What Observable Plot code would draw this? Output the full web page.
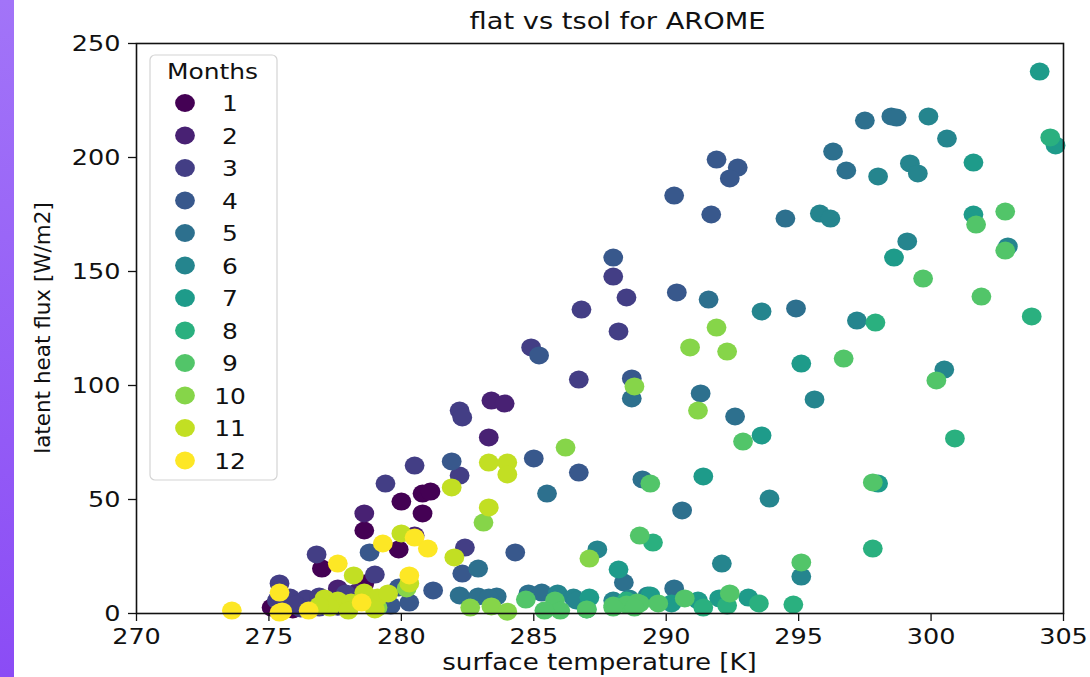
<!DOCTYPE html>
<html>
<head>
<meta charset="utf-8">
<script src="https://cdn.jsdelivr.net/npm/d3@7"></script>
<script src="https://cdn.jsdelivr.net/npm/@observablehq/plot@0.6"></script>
<style>
  html, body { margin: 0; padding: 0; background: #ffffff; }
  body { width: 1090px; height: 677px; position: relative; overflow: hidden; font-family: "DejaVu Sans", sans-serif; }
  #band { position: absolute; left: 0; top: 0; width: 14px; height: 677px; background: linear-gradient(#a274f8, #8b4cf5); }
  #chart { position: absolute; left: 0; top: 0; }
</style>
</head>
<body>
<div id="band"></div>
<div id="chart"></div>
<script>
// ---- data: [surface temperature (K), latent heat flux (W/m2)] per month ----
const month1 = [[280.0,49.1],[280.8,52.6],[281.1,53.5],[280.8,43.9],[278.6,36.4],[279.9,28.1],[277.0,19.7],[278.6,13.2],[275.1,2.6],[275.9,1.8],[277.7,5.7],[276.5,3.0]];
const month2 = [[283.4,93.4],[283.9,92.1],[283.3,77.2],[278.6,43.9],[277.6,11.0],[275.5,7.5],[278.3,9.2],[280.5,34.2]];
const month3 = [[282.2,89.0],[282.3,86.0],[280.5,64.9],[279.4,57.0],[282.2,60.5],[276.8,25.9],[279.0,17.1],[275.4,13.2],[275.8,7.0],[276.4,6.6],[276.9,7.5],[277.3,5.7],[276.2,2.2],[276.9,2.6],[275.3,5.7],[277.9,8.8],[284.9,116.7],[288.0,147.8],[288.5,138.6],[286.8,133.3],[288.2,123.7],[286.7,102.6],[282.4,28.9],[276.0,4.0],[277.6,3.0]];
const month4 = [[288.0,156.1],[290.4,140.8],[285.2,113.2],[288.7,103.1],[285.0,68.0],[286.7,61.8],[281.9,66.7],[284.3,26.8],[282.3,17.5],[281.2,10.1],[280.3,4.8],[291.9,199.1],[292.7,195.6],[292.4,190.8],[290.3,183.3],[291.7,175.0],[279.9,11.4],[279.6,3.5],[278.8,26.8]];
const month5 = [[297.5,216.2],[298.5,218.0],[298.7,217.5],[296.3,202.6],[296.8,194.3],[294.5,173.2],[294.9,133.8],[291.6,137.7],[288.7,94.3],[291.3,96.5],[292.6,86.4],[285.5,52.6],[289.1,58.8],[290.6,45.2],[282.9,19.7],[288.4,13.6],[290.3,11.0],[282.2,7.9],[282.9,7.5],[283.6,7.5],[283.3,7.0],[284.8,8.8],[285.3,9.2]];
const month6 = [[299.9,218.0],[300.6,208.3],[298.0,191.7],[299.2,197.4],[299.5,193.0],[295.8,175.4],[296.2,173.2],[302.9,161.0],[299.1,163.2],[297.2,128.5],[293.6,132.5],[295.6,93.9],[300.5,107.0],[295.1,16.2],[293.9,50.4],[287.4,28.1],[292.1,21.9],[285.9,8.8],[286.5,7.0],[286.6,5.7],[288.0,5.7],[288.6,6.6],[289.3,7.9]];
const month7 = [[301.6,197.8],[304.1,237.7],[304.7,205.3],[301.6,175.0],[298.6,156.1],[295.1,109.6],[293.6,78.1],[291.4,60.1],[298.0,57.0],[288.2,19.3],[287.1,7.0],[289.4,7.9],[290.2,4.4],[291.2,5.7],[292.0,6.6],[293.1,7.0]];
const month8 = [[304.5,208.8],[303.8,130.3],[297.9,127.6],[300.9,76.8],[297.8,28.5],[294.8,3.9],[289.5,31.1],[288.5,5.7],[291.4,2.6],[292.3,3.5],[293.5,4.4],[287.0,1.8]];
const month9 = [[301.7,170.6],[302.8,176.3],[302.8,159.2],[299.7,146.9],[301.9,139.0],[296.7,111.8],[300.2,102.2],[292.9,75.4],[289.4,57.0],[297.8,57.5],[295.1,22.4],[289.0,34.2],[284.7,6.1],[285.8,5.7],[288.9,4.8],[288.0,3.5],[288.5,3.9],[289.0,4.4],[289.7,4.4],[290.7,6.6],[292.4,8.8],[286.0,1.3],[287.0,1.8],[288.0,2.6],[288.8,2.6],[285.4,1.3]];
const month10 = [[291.9,125.4],[290.9,116.7],[292.3,114.9],[288.8,99.6],[291.2,89.0],[286.2,72.8],[283.1,39.9],[287.1,24.1],[282.6,2.6],[283.4,3.1],[280.2,11.0],[279.1,2.6],[284.0,0.8]];
const month11 = [[283.3,66.2],[284.0,66.2],[284.0,61.0],[281.9,55.3],[283.3,46.5],[280.0,35.1],[282.0,24.6],[278.2,16.7],[280.3,13.2],[277.1,6.6],[277.6,5.7],[278.1,4.8],[277.3,2.6],[278.0,1.3],[278.6,9.2],[279.1,7.0],[279.5,8.8],[276.9,3.5],[279.0,1.8]];
const month12 = [[273.6,1.3],[275.4,9.2],[275.4,0.4],[276.5,1.3],[277.6,21.9],[279.3,30.7],[280.5,33.3],[281.0,28.5],[280.3,16.7],[278.5,4.8],[275.5,0.9]];

const monthSeries = [month1, month2, month3, month4, month5, month6, month7, month8, month9, month10, month11, month12];
const monthNames = [1,2,3,4,5,6,7,8,9,10,11,12];
const xTicks = [270, 275, 280, 285, 290, 295, 300, 305];
const yTicks = [0, 50, 100, 150, 200, 250];
const titleText = "flat vs tsol for AROME";
const xLabel = "surface temperature [K]";
const yLabel = "latent heat flux [W/m2]";
const legendTitle = "Months";

// table built from the arrays above (drawn in month order)
const rows = monthSeries.flatMap((pts, i) => pts.map(([t, f]) => ({month: monthNames[i], tsol: t, flat: f})));

const W = 1090, H = 677;
const mL = 136, mR = 27, mT = 43, mB = 64;
const SX = 1.16;   // horizontal stretch of the reference picture

const plot = Plot.plot({
  width: W, height: H,
  marginLeft: mL, marginRight: mR, marginTop: mT, marginBottom: mB,
  style: {fontFamily: "DejaVu Sans, sans-serif", fontSize: "22px", color: "#111", background: "transparent"},
  x: {domain: [270, 305], label: null},
  y: {domain: [0, 250], label: null},
  color: {type: "linear", domain: [1, 12], scheme: "viridis"},
  marks: [
    Plot.dot(rows, {x: "tsol", y: "flat", fill: "month", r: 9, stroke: null}),
    Plot.frame({stroke: "#111", strokeWidth: 1.6}),
    Plot.axisX({ticks: xTicks, tickSize: 8, tickPadding: 7, fontSize: 22, stroke: "#111", strokeWidth: 1.3, label: null}),
    Plot.axisY({ticks: yTicks, tickSize: 8, tickPadding: 8, fontSize: 22, stroke: "#111", strokeWidth: 1.3, label: null})
  ]
});
document.getElementById("chart").appendChild(plot);

const svg = d3.select(plot);
const xs = plot.scale("x"), ys = plot.scale("y"), cs = plot.scale("color");
const cx = (xs.apply(270) + xs.apply(305)) / 2;

// stretch tick labels horizontally like the reference
svg.selectAll('g[aria-label="x-axis tick label"] text, g[aria-label="y-axis tick label"] text').each(function() {
  const t = this.getAttribute("transform") || "";
  this.setAttribute("transform", t + ` scale(${SX},1)`);
});
// dots are slightly wider than tall in the reference
svg.selectAll('g[aria-label="dot"] circle').each(function() {
  const x = +this.getAttribute("cx"), y = +this.getAttribute("cy");
  this.setAttribute("transform", `translate(${x},${y}) scale(1.1,1) translate(${-x},${-y})`);
});

svg.append("text").attr("transform", `translate(${cx + 18},29) scale(${SX},1)`).attr("text-anchor", "middle")
  .attr("font-size", 23.5).attr("fill", "#111").text(titleText);
svg.append("text").attr("transform", `translate(${cx},670) scale(${SX},1)`).attr("text-anchor", "middle")
  .attr("font-size", 22.5).attr("fill", "#111").text(xLabel);
svg.append("text").attr("transform", `translate(50,${(ys.apply(0) + ys.apply(250)) / 2}) rotate(-90)`)
  .attr("text-anchor", "middle").attr("font-size", 21.5).attr("fill", "#111").text(yLabel);

// legend
const lg = svg.append("g");
const lx = 150, ly = 55, lw = 127, lh = 425;
lg.append("rect").attr("x", lx).attr("y", ly).attr("width", lw).attr("height", lh)
  .attr("rx", 5).attr("fill", "rgba(255,255,255,0.85)").attr("stroke", "#d4d4d4").attr("stroke-width", 1.2);
lg.append("text").attr("transform", `translate(${lx + lw / 2 - 1},${ly + 24}) scale(${SX},1)`).attr("text-anchor", "middle")
  .attr("font-size", 21.5).attr("fill", "#111").text(legendTitle);
monthNames.forEach((m, i) => {
  const yy = ly + 48 + i * 32.5;
  lg.append("ellipse").attr("cx", lx + 35).attr("cy", yy).attr("rx", 9.9).attr("ry", 9).attr("fill", cs.apply(m));
  lg.append("text").attr("transform", `translate(${lx + 80},${yy + 8}) scale(${SX},1)`).attr("font-size", 21.5).attr("fill", "#111").text(String(m));
});
</script>
</body>
</html>
